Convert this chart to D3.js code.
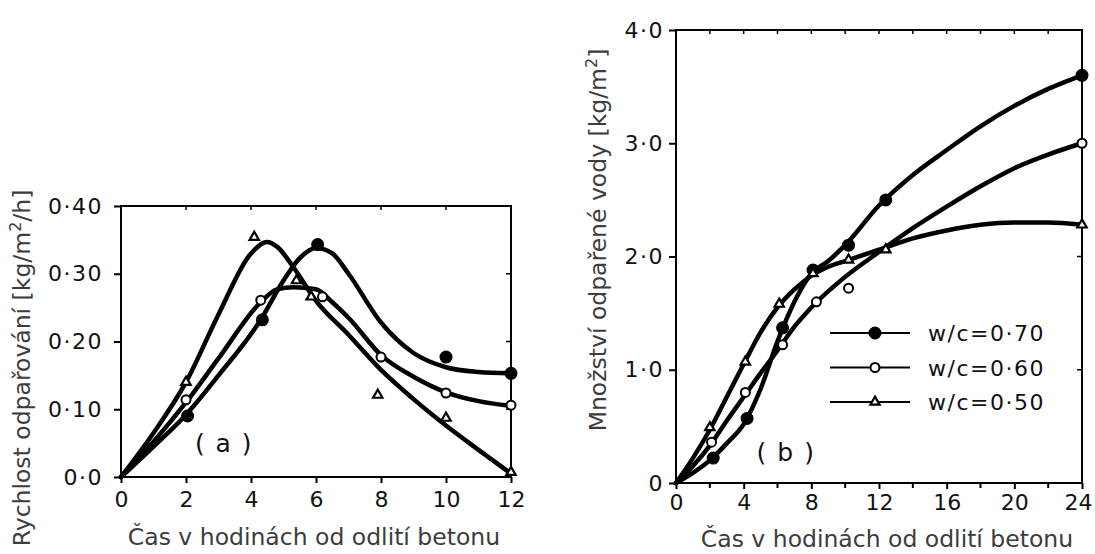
<!DOCTYPE html>
<html>
<head>
<meta charset="utf-8">
<script src="https://cdn.jsdelivr.net/npm/d3@7"></script>
<style>
  body { margin: 0; background: #fff; }
  svg { display: block; }
  .tick-label { font-family: "DejaVu Sans", sans-serif; font-size: 22px; letter-spacing: 1.5px; fill: #111; }
  .title { font-family: "DejaVu Sans", sans-serif; font-size: 23.5px; fill: #3c3c3c; }
</style>
</head>
<body>
<svg id="chart" width="1095" height="554"></svg>
<script>
// ---- panel (a): evaporation rate ----
const aXTicks = [0, 2, 4, 6, 8, 10, 12];
const aYTicks = [0, 0.1, 0.2, 0.3, 0.4];
const aYTickLabels = ["0·0", "0·10", "0·20", "0·30", "0·40"];

// fitted curves [hour, kg/m2/h]
const aCurve70 = [[0,0],[1,0.045],[2,0.092],[3,0.15],[4.3,0.232],[5,0.29],[5.5,0.323],[6,0.338],[6.5,0.33],[7,0.3],[8,0.228],[9,0.183],[10,0.162],[11,0.155],[12,0.153]];
const aCurve60 = [[0,0],[1,0.052],[2,0.11],[3,0.175],[4.3,0.258],[4.8,0.277],[5.3,0.28],[6,0.277],[6.5,0.258],[7,0.235],[8,0.18],[9,0.148],[10,0.125],[11,0.112],[12,0.105]];
const aCurve50 = [[0,0],[1,0.065],[2,0.14],[3,0.24],[4,0.33],[4.5,0.347],[4.8,0.34],[5.3,0.31],[6,0.26],[7,0.21],[8,0.158],[9,0.115],[10,0.076],[11,0.04],[12,0.005]];

// measured points
const aMark70 = [[2.05,0.09],[4.35,0.232],[6.05,0.343],[10,0.177],[12,0.153]];
const aMark60 = [[2,0.114],[4.3,0.261],[6.2,0.266],[8,0.177],[10,0.124],[12,0.106]];
const aMark50 = [[2,0.14],[4.1,0.354],[5.4,0.29],[5.85,0.266],[7.9,0.121],[10,0.087],[12,0.007]];

// ---- panel (b): cumulative evaporated water ----
const bXTicks = [0, 4, 8, 12, 16, 20, 24];
const bXMinor = [2, 6, 10, 14, 18, 22];
const bYTicks = [0, 1, 2, 3, 4];
const bYTickLabels = ["0", "1·0", "2·0", "3·0", "4·0"];

const bCurve70 = [[0,0],[1,0.09],[2,0.2],[3,0.35],[4,0.52],[5,0.83],[6,1.25],[7,1.6],[8,1.85],[9,1.96],[10,2.1],[12,2.45],[14,2.72],[16,2.94],[18,3.15],[20,3.33],[22,3.48],[24,3.6]];
const bCurve60 = [[0,0],[1,0.15],[2,0.33],[3,0.55],[4,0.76],[5,0.97],[6,1.17],[7,1.38],[8,1.55],[10,1.82],[12,2.04],[14,2.25],[16,2.44],[18,2.62],[20,2.78],[22,2.9],[24,3.0]];
const bCurve50 = [[0,0],[1,0.22],[2,0.47],[3,0.76],[4,1.05],[5,1.33],[6,1.55],[7,1.71],[8,1.83],[9,1.91],[10,1.96],[12,2.06],[14,2.16],[16,2.23],[18,2.28],[20,2.3],[22,2.3],[24,2.28]];

const bMark70 = [[2.2,0.22],[4.2,0.57],[6.3,1.37],[8.1,1.88],[10.2,2.1],[12.4,2.5],[24,3.6]];
const bMark60 = [[2.1,0.36],[4.1,0.8],[6.3,1.22],[8.3,1.6],[10.2,1.72],[24,3.0]];
const bMark50 = [[2,0.49],[4.1,1.07],[6.1,1.58],[8.1,1.85],[10.2,1.97],[12.4,2.06],[24,2.28]];

const legendLabels = ["w/c=0·70", "w/c=0·60", "w/c=0·50"];
const legendMarks = ["filled", "open", "triangle"];

const svg = d3.select("#chart");

function drawMarks(g, x, y, pts, kind) {
  if (kind === "triangle") {
    g.selectAll(null).data(pts).join("path")
      .attr("d", d3.symbol(d3.symbolTriangle, 38)())
      .attr("transform", d => `translate(${x(d[0])},${y(d[1])})`)
      .attr("fill", "#fff").attr("stroke", "#000").attr("stroke-width", 2.2);
  } else {
    g.selectAll(null).data(pts).join("circle")
      .attr("cx", d => x(d[0])).attr("cy", d => y(d[1]))
      .attr("r", kind === "filled" ? 5.5 : 4.5)
      .attr("fill", kind === "filled" ? "#000" : "#fff")
      .attr("stroke", "#000").attr("stroke-width", 2);
  }
}

function drawPanel(cfg) {
  const { x, y } = cfg;
  const g = svg.append("g");
  const [x0, x1] = x.range();
  const [y0, y1] = y.range();

  // frame
  g.append("rect")
    .attr("x", x0).attr("y", y1).attr("width", x1 - x0).attr("height", y0 - y1)
    .attr("fill", "none").attr("stroke", "#000").attr("stroke-width", 2);

  // bottom axis
  const bottom = g.append("g").attr("transform", `translate(0,${y0})`)
    .call(d3.axisBottom(x).tickValues(cfg.xTicks).tickSize(6).tickPadding(cfg.xPad).tickFormat(d3.format("d")));
  bottom.select(".domain").remove();
  bottom.selectAll("text").attr("class", "tick-label").attr("font-size", null).attr("font-family", null)
    .style("letter-spacing", "0px");
  bottom.selectAll("line").attr("stroke-width", 2);
  // last label sits against the page edge, as in the print
  if (cfg.lastShift) {
    bottom.selectAll(".tick").filter(d => d === cfg.xTicks[cfg.xTicks.length - 1])
      .select("text").attr("dx", cfg.lastShift);
  }

  if (cfg.xMinor) {
    g.selectAll(null).data(cfg.xMinor).join("line")
      .attr("x1", d => x(d)).attr("x2", d => x(d))
      .attr("y1", y0).attr("y2", y0 + 5)
      .attr("stroke", "#000").attr("stroke-width", 2);
  }
  // top ticks, inward
  g.selectAll(null).data(cfg.xMinor ? cfg.xTicks.concat(cfg.xMinor) : cfg.xTicks).join("line")
    .attr("x1", d => x(d)).attr("x2", d => x(d))
    .attr("y1", y1).attr("y2", y1 + 4)
    .attr("stroke", "#000").attr("stroke-width", 1.5);

  // left axis
  const left = g.append("g").attr("transform", `translate(${x0},0)`)
    .call(d3.axisLeft(y).tickValues(cfg.yTicks).tickSize(7).tickPadding(cfg.yPad)
      .tickFormat((d, i) => cfg.yLabels[i]));
  left.select(".domain").remove();
  left.selectAll("text").attr("class", "tick-label").attr("font-size", null).attr("font-family", null);
  left.selectAll("line").attr("stroke-width", 2);

  // right ticks, inward
  g.selectAll(null).data(cfg.yTicks).join("line")
    .attr("x1", x1).attr("x2", x1 - 5)
    .attr("y1", d => y(d)).attr("y2", d => y(d))
    .attr("stroke", "#000").attr("stroke-width", 1.5);

  // curves
  const line = d3.line().x(d => x(d[0])).y(d => y(d[1])).curve(d3.curveMonotoneX);
  cfg.curves.forEach(c => {
    g.append("path").datum(c).attr("d", line)
      .attr("fill", "none").attr("stroke", "#000").attr("stroke-width", 4.5)
      .attr("stroke-linejoin", "round").attr("stroke-linecap", "round");
  });
  cfg.marks.forEach((m, i) => drawMarks(g, x, y, m, legendMarks[i]));

  // panel tag
  g.append("text").attr("class", "tick-label")
    .attr("x", cfg.tag[0]).attr("y", cfg.tag[1])
    .attr("text-anchor", "middle").style("font-size", "25px")
    .text(cfg.tag[2]);

  // x title
  g.append("text").attr("class", "title")
    .attr("x", cfg.xTitle[0]).attr("y", cfg.xTitle[1])
    .attr("text-anchor", "middle")
    .text("Čas v hodinách od odlití betonu");

  // y title with superscript 2
  const yt = g.append("text").attr("class", "title")
    .attr("text-anchor", "middle")
    .attr("transform", `translate(${cfg.yTitle[0]},${cfg.yTitle[1]}) rotate(-90)`);
  yt.append("tspan").text(cfg.yTitleParts[0]);
  yt.append("tspan").attr("dy", -9).style("font-size", "16px").text("2");
  yt.append("tspan").attr("dy", 9).text(cfg.yTitleParts[1]);
  return g;
}

// panel (a)
drawPanel({
  x: d3.scaleLinear().domain([0, 12]).range([121, 511]),
  y: d3.scaleLinear().domain([0, 0.4]).range([477, 206]),
  xTicks: aXTicks, yTicks: aYTicks, yLabels: aYTickLabels,
  xPad: 8, yPad: 11,
  curves: [aCurve70, aCurve60, aCurve50],
  marks: [aMark70, aMark60, aMark50],
  tag: [224, 452, "( a )"],
  xTitle: [314, 545],
  yTitle: [30, 368],
  yTitleParts: ["Rychlost odpařování [kg/m", "/h]"]
});

// panel (b)
const gb = drawPanel({
  x: d3.scaleLinear().domain([0, 24]).range([676, 1082]),
  y: d3.scaleLinear().domain([0, 4]).range([483, 30]),
  xTicks: bXTicks, xMinor: bXMinor, yTicks: bYTicks, yLabels: bYTickLabels,
  xPad: 5, yPad: 5, lastShift: -4,
  curves: [bCurve70, bCurve60, bCurve50],
  marks: [bMark70, bMark60, bMark50],
  tag: [786, 461, "( b )"],
  xTitle: [887, 547],
  yTitle: [606, 240],
  yTitleParts: ["Množství odpařené vody [kg/m", "]"]
});

// legend in panel (b)
const legendY = d3.scalePoint().domain(legendLabels).range([333, 402]);
const lg = gb.append("g");
legendLabels.forEach((lab, i) => {
  const ly = legendY(lab);
  lg.append("line").attr("x1", 830).attr("x2", 910).attr("y1", ly).attr("y2", ly)
    .attr("stroke", "#000").attr("stroke-width", 2.2);
  drawMarks(lg, d => d, d => d, [[875, ly]], legendMarks[i]);
  lg.append("text").attr("class", "tick-label")
    .attr("x", 928).attr("y", ly + 8)
    .text(lab);
});
</script>
</body>
</html>
